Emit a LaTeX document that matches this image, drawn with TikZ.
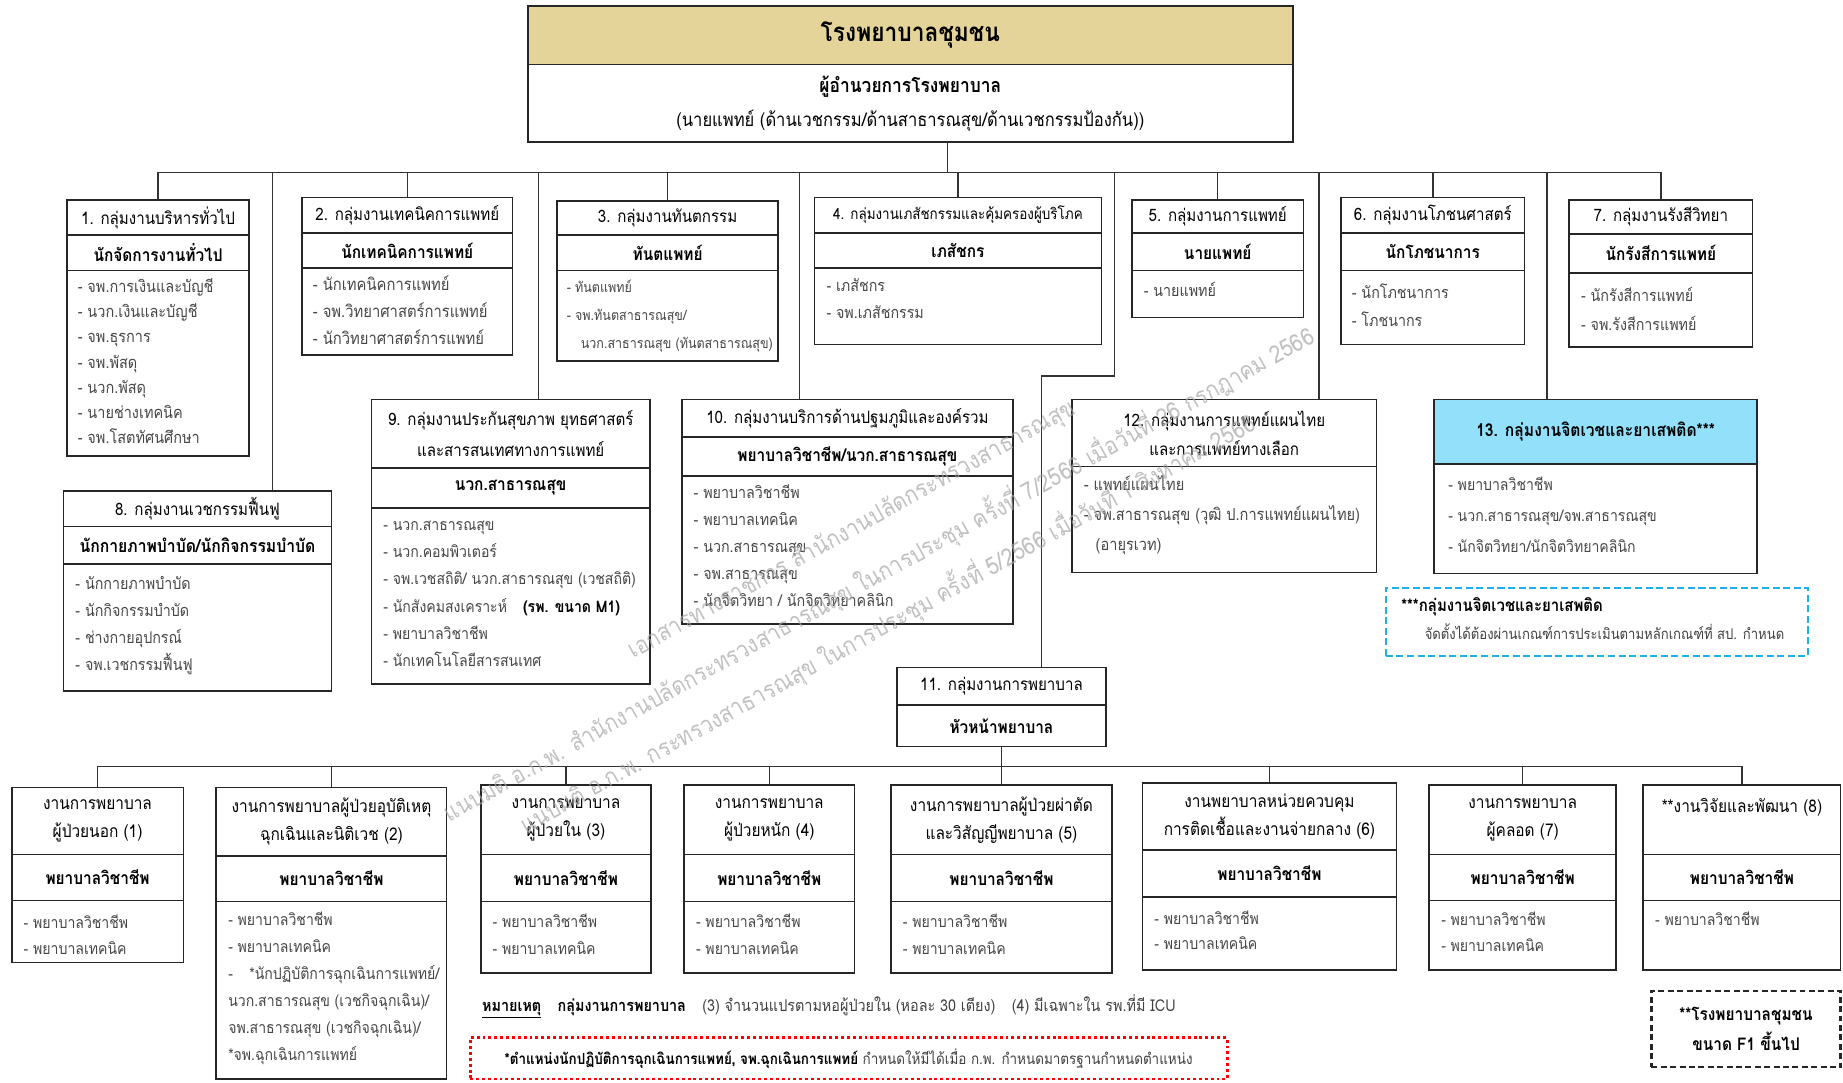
\documentclass[tikz,border=0pt]{standalone}
\usepackage{fontspec}
\setmainfont{Loma}[Script=Thai, FakeStretch=0.88]
\definecolor{gold}{RGB}{228,212,153}
\definecolor{skyfill}{RGB}{146,224,250}
\definecolor{skyline}{RGB}{30,176,232}
\tikzset{cell/.style = {draw=black!85, fill=white, line width=1.4pt, inner sep=1pt, align=center,
                        font=\fontsize{14.6}{26}\selectfont}}
\tikzset{bcell/.style = {cell, font=\fontsize{14.9}{24}\selectfont}}
\tikzset{role/.style = {cell, font=\fontsize{14.9}{25}\selectfont\bfseries}}
\tikzset{items/.style = {anchor=north west, align=left, inner sep=0pt, text=black!72,
                         font=\fontsize{13.8}{23}\selectfont}}
\tikzset{link/.style = {draw=black!80, line width=1.2pt}}
\tikzset{wmark/.style = {text=black!35, opacity=0.7, rotate=29, inner sep=0pt,
                         font=\fontsize{20.5}{20}\selectfont}}
\newcommand{\fs}{\rule{0pt}{14.5pt}}

\begin{document}
\begin{tikzpicture}[x=1pt, y=-1pt]
  \useasboundingbox (0,0) rectangle (1568,921);

  % hospital and director
  \node [cell, fill=gold, minimum width=651pt, minimum height=50pt,
         font=\fontsize{22}{24}\selectfont\bfseries] (hosp) at (774.5,30) {โรงพยาบาลชุมชน};
  \node [cell, minimum width=651pt, minimum height=66pt, font=\fontsize{16}{29}\selectfont] (dir) at (774.5,88)
        {{\fontsize{16.8}{29}\selectfont\bfseries ผู้อำนวยการโรงพยาบาล}\\(นายแพทย์ (ด้านเวชกรรม/ด้านสาธารณสุข/ด้านเวชกรรมป้องกัน))};
  \coordinate (hub) at (806,147);
  \coordinate (d8) at (232,147);
  \coordinate (d9) at (458,147);
  \coordinate (d10) at (680,147);
  \coordinate (k11) at (948,147);
  \coordinate (j11) at (886,320);
  \coordinate (d12) at (1122,147);
  \coordinate (d13) at (1316,147);
  \coordinate (hub2) at (852,652);

  % groups 1-7
  \node [cell, minimum width=155pt, minimum height=30pt] (g1a) at (134.5,185) {1. กลุ่มงานบริหารทั่วไป};
  \node [role, minimum width=155pt, minimum height=30pt] (g1b) at (134.5,215) {นักจัดการงานทั่วไป};
  \node [cell, minimum width=155pt, minimum height=158pt] (g1c) at (134.5,309) {};
  \node [items, font=\fontsize{14}{21.3}\selectfont] (g1t) at (66,234.5)
        {\fs- จพ.การเงินและบัญชี\\- นวก.เงินและบัญชี\\- จพ.ธุรการ\\- จพ.พัสดุ\\- นวก.พัสดุ\\- นายช่างเทคนิค\\- จพ.โสตทัศนศึกษา};

  \node [cell, minimum width=179pt, minimum height=30pt] (g2a) at (346.5,183) {2. กลุ่มงานเทคนิคการแพทย์};
  \node [role, minimum width=179pt, minimum height=30pt] (g2b) at (346.5,213) {นักเทคนิคการแพทย์};
  \node [cell, minimum width=179pt, minimum height=74pt] (g2c) at (346.5,265) {};
  \node [items, font=\fontsize{14.3}{23}\selectfont] (g2t) at (266,232.5)
        {\fs- นักเทคนิคการแพทย์\\- จพ.วิทยาศาสตร์การแพทย์\\- นักวิทยาศาสตร์การแพทย์};

  \node [cell, minimum width=188pt, minimum height=29pt] (g3a) at (568,185.5) {3. กลุ่มงานทันตกรรม};
  \node [role, minimum width=188pt, minimum height=30pt] (g3b) at (568,215) {ทันตแพทย์};
  \node [cell, minimum width=188pt, minimum height=77pt] (g3c) at (568,268.5) {};
  \node [items, font=\fontsize{12.1}{23.5}\selectfont] (g3t) at (482,234.5)
        {\fs- ทันตแพทย์\\- จพ.ทันตสาธารณสุข/\\\hspace{12pt}นวก.สาธารณสุข (ทันตสาธารณสุข)};

  \node [cell, minimum width=244pt, minimum height=30pt, font=\fontsize{13}{20}\selectfont] (g4a) at (815,183)
        {4. กลุ่มงานเภสัชกรรมและคุ้มครองผู้บริโภค};
  \node [role, minimum width=244pt, minimum height=30pt] (g4b) at (815,213) {เภสัชกร};
  \node [cell, minimum width=244pt, minimum height=65pt] (g4c) at (815,260.5) {};
  \node [items] (g4t) at (703,233.5) {\fs- เภสัชกร\\- จพ.เภสัชกรรม};

  \node [cell, minimum width=146pt, minimum height=28pt] (g5a) at (1036,184) {5. กลุ่มงานการแพทย์};
  \node [role, minimum width=146pt, minimum height=32pt] (g5b) at (1036,214) {นายแพทย์};
  \node [cell, minimum width=146pt, minimum height=40pt] (g5c) at (1036,250) {};
  \node [items] (g5t) at (973,237.5) {\fs- นายแพทย์};

  \node [cell, minimum width=156pt, minimum height=30pt] (g6a) at (1219,183) {6. กลุ่มงานโภชนศาสตร์};
  \node [role, minimum width=156pt, minimum height=32pt] (g6b) at (1219,214) {นักโภชนาการ};
  \node [cell, minimum width=156pt, minimum height=63pt] (g6c) at (1219,261.5) {};
  \node [items, font=\fontsize{13.8}{24}\selectfont] (g6t) at (1150,239.5) {\fs- นักโภชนาการ\\- โภชนากร};

  \node [cell, minimum width=156pt, minimum height=29pt] (g7a) at (1413,184.5) {7. กลุ่มงานรังสีวิทยา};
  \node [role, minimum width=156pt, minimum height=33pt] (g7b) at (1413,215.5) {นักรังสีการแพทย์};
  \node [cell, minimum width=156pt, minimum height=63pt] (g7c) at (1413,263.5) {};
  \node [items, font=\fontsize{13.8}{25}\selectfont] (g7t) at (1345,241.5) {\fs- นักรังสีการแพทย์\\- จพ.รังสีการแพทย์};

  % groups 8-13
  \node [cell, minimum width=228pt, minimum height=30pt] (g8a) at (168,433) {8. กลุ่มงานเวชกรรมฟื้นฟู};
  \node [role, minimum width=228pt, minimum height=32pt, font=\fontsize{15.2}{25}\selectfont\bfseries] (g8b) at (168,464)
        {นักกายภาพบำบัด/นักกิจกรรมบำบัด};
  \node [cell, minimum width=228pt, minimum height=108pt] (g8c) at (168,534) {};
  \node [items] (g8t) at (64,486.5) {\fs- นักกายภาพบำบัด\\- นักกิจกรรมบำบัด\\- ช่างกายอุปกรณ์\\- จพ.เวชกรรมฟื้นฟู};

  \node [cell, minimum width=237pt, minimum height=58pt] (g9a) at (434.5,369)
        {9. กลุ่มงานประกันสุขภาพ ยุทธศาสตร์\\และสารสนเทศทางการแพทย์};
  \node [role, minimum width=237pt, minimum height=34pt] (g9b) at (434.5,415) {นวก.สาธารณสุข};
  \node [cell, minimum width=237pt, minimum height=150pt] (g9c) at (434.5,507) {};
  \node [items, font=\fontsize{13.6}{23.2}\selectfont] (g9t) at (326,436.5)
        {\fs- นวก.สาธารณสุข\\- นวก.คอมพิวเตอร์\\- จพ.เวชสถิติ/ นวก.สาธารณสุข (เวชสถิติ)\\
         - นักสังคมสงเคราะห์\quad{\color{black}\bfseries(รพ. ขนาด M1)}\\- พยาบาลวิชาชีพ\\- นักเทคโนโลยีสารสนเทศ};

  \node [cell, minimum width=282pt, minimum height=32pt] (g10a) at (721,356) {10. กลุ่มงานบริการด้านปฐมภูมิและองค์รวม};
  \node [role, minimum width=282pt, minimum height=33pt] (g10b) at (721,388.5) {พยาบาลวิชาชีพ/นวก.สาธารณสุข};
  \node [cell, minimum width=282pt, minimum height=126pt] (g10c) at (721,468) {};
  \node [items] (g10t) at (590,409.5)
        {\fs- พยาบาลวิชาชีพ\\- พยาบาลเทคนิค\\- นวก.สาธารณสุข\\- จพ.สาธารณสุข\\- นักจิตวิทยา / นักจิตวิทยาคลินิก};

  \node [cell, minimum width=259pt, minimum height=57pt, font=\fontsize{14.6}{25}\selectfont] (g12a) at (1041.5,368.5)
        {12. กลุ่มงานการแพทย์แผนไทย\\และการแพทย์ทางเลือก};
  \node [cell, minimum width=259pt, minimum height=90pt] (g12c) at (1041.5,442) {};
  \node [items, font=\fontsize{14.1}{25.5}\selectfont] (g12t) at (922,402.5)
        {\fs- แพทย์แผนไทย\\- จพ.สาธารณสุข (วุฒิ ป.การแพทย์แผนไทย)\\\hspace{10pt}(อายุรเวท)};

  \node [cell, fill=skyfill, minimum width=275pt, minimum height=55pt, font=\fontsize{15.1}{24}\selectfont\bfseries]
        (g13a) at (1357.5,367.5) {13. กลุ่มงานจิตเวชและยาเสพติด***};
  \node [cell, minimum width=275pt, minimum height=93pt] (g13c) at (1357.5,441.5) {};
  \node [items, font=\fontsize{13.6}{26.5}\selectfont] (g13t) at (1232,402.5)
        {\fs- พยาบาลวิชาชีพ\\- นวก.สาธารณสุข/จพ.สาธารณสุข\\- นักจิตวิทยา/นักจิตวิทยาคลินิก};
  \node [draw=skyline, dash pattern=on 6pt off 3pt, line width=2pt, minimum width=359pt, minimum height=58pt]
        (n13) at (1358.5,529) {};
  \node [items, text=black!75, font=\fontsize{12.65}{24}\selectfont] (n13t) at (1192,505.5)
        {\fs{\color{black}\fontsize{14.5}{24}\selectfont\bfseries ***กลุ่มงานจิตเวชและยาเสพติด}\\\hspace{20pt}จัดตั้งได้ต้องผ่านเกณฑ์การประเมินตามหลักเกณฑ์ที่ สป. กำหนด};

  \node [cell, minimum width=178pt, minimum height=32pt] (g11a) at (852,584) {11. กลุ่มงานการพยาบาล};
  \node [role, minimum width=178pt, minimum height=35pt] (g11b) at (852,617.5) {หัวหน้าพยาบาล};

  % nursing units
  \node [bcell, minimum width=146pt, minimum height=57pt] (b1a) at (83,698.5) {งานการพยาบาล\\ผู้ป่วยนอก (1)};
  \node [role, minimum width=146pt, minimum height=39pt] (b1b) at (83,746.5) {พยาบาลวิชาชีพ};
  \node [cell, minimum width=146pt, minimum height=53pt] (b1c) at (83,792.5) {};
  \node [items, font=\fontsize{13.6}{22}\selectfont] (b1t) at (20,775.5) {\fs- พยาบาลวิชาชีพ\\- พยาบาลเทคนิค};

  \node [bcell, minimum width=196pt, minimum height=58pt] (b2a) at (282,699)
        {งานการพยาบาลผู้ป่วยอุบัติเหตุ\\ฉุกเฉินและนิติเวช (2)};
  \node [role, minimum width=196pt, minimum height=39pt] (b2b) at (282,747.5) {พยาบาลวิชาชีพ};
  \node [cell, minimum width=196pt, minimum height=151pt] (b2c) at (282,842.5) {};
  \node [items, font=\fontsize{13.6}{23}\selectfont] (b2t) at (194,772.5)
        {\fs- พยาบาลวิชาชีพ\\- พยาบาลเทคนิค\\-\hspace{14pt}*นักปฏิบัติการฉุกเฉินการแพทย์/\\
         นวก.สาธารณสุข (เวชกิจฉุกเฉิน)/\\จพ.สาธารณสุข (เวชกิจฉุกเฉิน)/\\*จพ.ฉุกเฉินการแพทย์};

  \node [bcell, minimum width=145pt, minimum height=59pt] (b3a) at (481.5,697.5) {งานการพยาบาล\\ผู้ป่วยใน (3)};
  \node [role, minimum width=145pt, minimum height=40pt] (b3b) at (481.5,747) {พยาบาลวิชาชีพ};
  \node [cell, minimum width=145pt, minimum height=61pt] (b3c) at (481.5,797.5) {};
  \node [items, font=\fontsize{13.6}{23}\selectfont] (b3t) at (419,774.5) {\fs- พยาบาลวิชาชีพ\\- พยาบาลเทคนิค};

  \node [bcell, minimum width=145pt, minimum height=59pt] (b4a) at (654.5,697.5) {งานการพยาบาล\\ผู้ป่วยหนัก (4)};
  \node [role, minimum width=145pt, minimum height=40pt] (b4b) at (654.5,747) {พยาบาลวิชาชีพ};
  \node [cell, minimum width=145pt, minimum height=61pt] (b4c) at (654.5,797.5) {};
  \node [items, font=\fontsize{13.6}{23}\selectfont] (b4t) at (592,774.5) {\fs- พยาบาลวิชาชีพ\\- พยาบาลเทคนิค};

  \node [bcell, minimum width=188pt, minimum height=59pt] (b5a) at (852,697.5)
        {งานการพยาบาลผู้ป่วยผ่าตัด\\และวิสัญญีพยาบาล (5)};
  \node [role, minimum width=188pt, minimum height=40pt] (b5b) at (852,747) {พยาบาลวิชาชีพ};
  \node [cell, minimum width=188pt, minimum height=61pt] (b5c) at (852,797.5) {};
  \node [items, font=\fontsize{13.6}{23}\selectfont] (b5t) at (768,774.5) {\fs- พยาบาลวิชาชีพ\\- พยาบาลเทคนิค};

  \node [bcell, minimum width=216pt, minimum height=57pt] (b6a) at (1080,694.5)
        {งานพยาบาลหน่วยควบคุม\\การติดเชื้อและงานจ่ายกลาง (6)};
  \node [role, minimum width=216pt, minimum height=40pt] (b6b) at (1080,743) {พยาบาลวิชาชีพ};
  \node [cell, minimum width=216pt, minimum height=62pt] (b6c) at (1080,794) {};
  \node [items, font=\fontsize{13.6}{22}\selectfont] (b6t) at (982,771.5) {\fs- พยาบาลวิชาชีพ\\- พยาบาลเทคนิค};

  \node [bcell, minimum width=159pt, minimum height=59pt] (b7a) at (1295.5,697.5) {งานการพยาบาล\\ผู้คลอด (7)};
  \node [role, minimum width=159pt, minimum height=39pt] (b7b) at (1295.5,746.5) {พยาบาลวิชาชีพ};
  \node [cell, minimum width=159pt, minimum height=59pt] (b7c) at (1295.5,795.5) {};
  \node [items, font=\fontsize{13.6}{22}\selectfont] (b7t) at (1226,772.5) {\fs- พยาบาลวิชาชีพ\\- พยาบาลเทคนิค};

  \node [bcell, minimum width=168pt, minimum height=59pt] (b8a) at (1482,697.5) {**งานวิจัยและพัฒนา (8)\\~};
  \node [role, minimum width=168pt, minimum height=39pt] (b8b) at (1482,746.5) {พยาบาลวิชาชีพ};
  \node [cell, minimum width=168pt, minimum height=59pt] (b8c) at (1482,795.5) {};
  \node [items, font=\fontsize{13.6}{22}\selectfont] (b8t) at (1408,772.5) {\fs- พยาบาลวิชาชีพ};

  % remarks
  \node [anchor=west, inner sep=0pt, text=black!75, font=\fontsize{13.9}{14}\selectfont] (remark) at (410,856)
        {{\color{black}\bfseries\underline{หมายเหตุ}\quad กลุ่มงานการพยาบาล}\quad(3) จำนวนแปรตามหอผู้ป่วยใน (หอละ 30 เตียง)\quad(4) มีเฉพาะใน รพ.ที่มี ICU};
  \node [draw=red, dash pattern=on 2.5pt off 2.5pt, line width=2.5pt, minimum width=644pt, minimum height=35pt,
         text=black!75, font=\fontsize{13}{14}\selectfont] (emsnote) at (722,900.5)
        {{\color{black}\bfseries *ตำแหน่งนักปฏิบัติการฉุกเฉินการแพทย์, จพ.ฉุกเฉินการแพทย์} กำหนดให้มีได้เมื่อ ก.พ. กำหนดมาตรฐานกำหนดตำแหน่ง};
  \node [draw=black!85, dash pattern=on 5pt off 3pt, line width=2pt, minimum width=161pt, minimum height=65pt,
         align=center, font=\fontsize{14.9}{26}\selectfont\bfseries] (f1note) at (1485.5,875.5)
        {**โรงพยาบาลชุมชน\\ขนาด F1 ขึ้นไป};

  % connectors
  \draw [link] (hub |- dir.south) -- (hub);
  \draw [link] (g1a.north) |- (hub);
  \draw [link] (g2a.north) |- (hub);
  \draw [link] (g3a.north) |- (hub);
  \draw [link] (g4a.north) |- (hub);
  \draw [link] (g5a.north) |- (hub);
  \draw [link] (g6a.north) |- (hub);
  \draw [link] (g7a.north) |- (hub);
  \draw [link] (d8 |- g8a.north) |- (hub);
  \draw [link] (d9 |- g9a.north) |- (hub);
  \draw [link] (d10 |- g10a.north) |- (hub);
  \draw [link] (d12 |- g12a.north) |- (hub);
  \draw [link] (d13 |- g13a.north) |- (hub);
  \draw [link] (j11 |- g11a.north) -- (j11) -| (k11);
  \draw [link] (g11b.south) -- (hub2);
  \draw [link] (b1a.north) |- (hub2);
  \draw [link] (b2a.north) |- (hub2);
  \draw [link] (b3a.north) |- (hub2);
  \draw [link] (b4a.north) |- (hub2);
  \draw [link] (b5a.north) |- (hub2);
  \draw [link] (b6a.north) |- (hub2);
  \draw [link] (b7a.north) |- (hub2);
  \draw [link] (b8a.north) |- (hub2);

  % watermark
  \node [wmark] (wm1) at (725,451) {เอกสารทางราชการ สำนักงานปลัดกระทรวงสาธารณสุข};
  \node [wmark] (wm2) at (747.5,488) {แนบมติ อ.ก.พ. สำนักงานปลัดกระทรวงสาธารณสุข ในการประชุม ครั้งที่ 7/2566 เมื่อวันที่ 26 กรกฎาคม 2566};
  \node [wmark] (wm3) at (755,530) {แนบมติ อ.ก.พ. กระทรวงสาธารณสุข ในการประชุม ครั้งที่ 5/2566 เมื่อวันที่ 1 สิงหาคม 2566};
\end{tikzpicture}
\end{document}
